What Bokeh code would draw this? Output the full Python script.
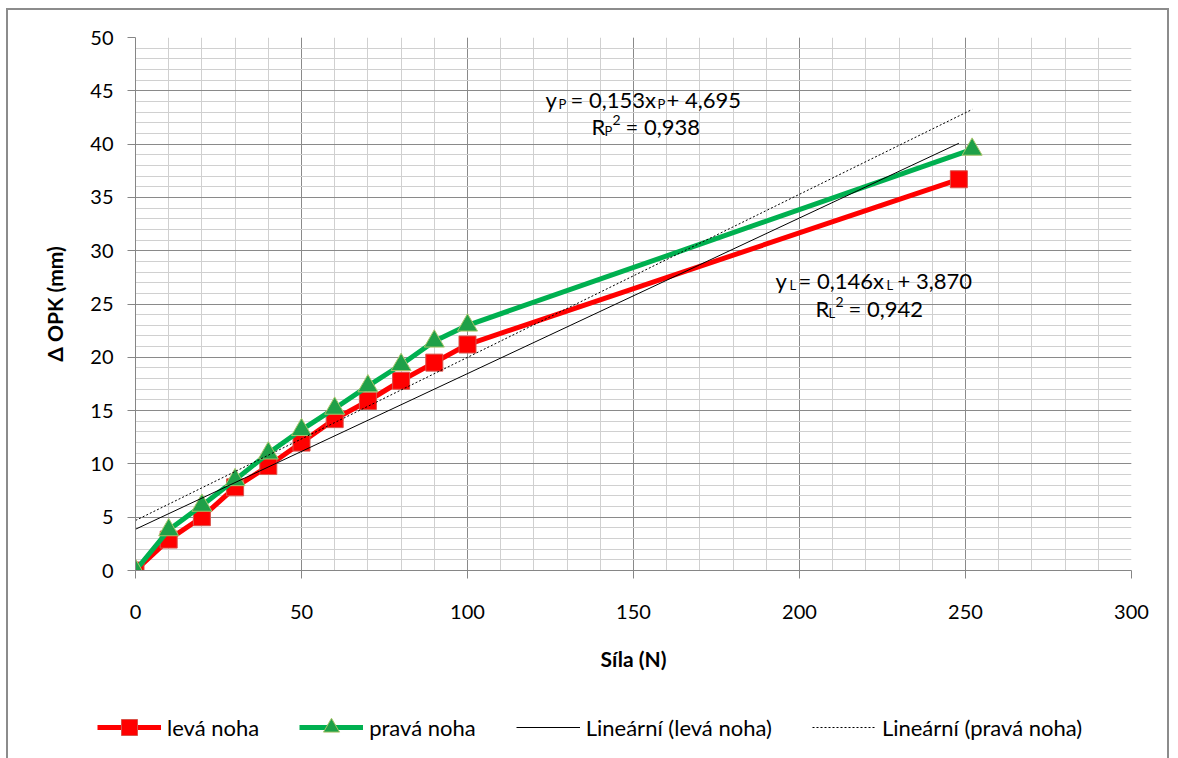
from bokeh.plotting import figure
from bokeh.layouts import column
from bokeh.models import Range1d, SingleIntervalTicker, Legend, LegendItem, Label
from bokeh.embed import file_html
from bokeh.resources import INLINE

# ---------------- data ----------------
sila_leva = [0, 10, 20, 30, 40, 50, 60, 70, 80, 90, 100, 248]
opk_leva = [0, 2.9, 5.0, 7.8, 9.8, 12.0, 14.2, 15.9, 17.8, 19.5, 21.2, 36.7]
sila_prava = [0, 10, 20, 30, 40, 50, 60, 70, 80, 90, 100, 252]
opk_prava = [0, 3.8, 6.1, 8.5, 11.0, 13.2, 15.2, 17.3, 19.3, 21.5, 23.0, 39.5]
trend_leva = (0.146, 3.870)   # slope, intercept
trend_prava = (0.153, 4.695)
series_names = ["levá noha", "pravá noha", "Lineární (levá noha)", "Lineární (pravá noha)"]

FONT = "Lato"
OX, OY = 8, 10                        # canvas offset inside the page (room for border)
FL, FR, FT, FB = 135, 1131, 37, 570   # frame edges in page px
CW = 1167 - OX
MAIN_BOTTOM = 690                     # page y where the main figure ends
MH = MAIN_BOTTOM - OY
LH = 758 - MAIN_BOTTOM
LEG_LEFT = 96                         # page x where the legend starts
SHIFT = FL - LEG_LEFT                 # legend strip is shifted left by this much

RED, GREEN = "#ff0000", "#00b050"

p = figure(width=CW, height=MH, output_backend="svg", toolbar_location=None,
           x_range=Range1d(0, 300), y_range=Range1d(0, 50),
           min_border_left=FL - OX, min_border_right=CW - (FR - OX),
           min_border_top=FT - OY, min_border_bottom=MAIN_BOTTOM - FB)
p.outline_line_color = None
p.background_fill_color = "white"
p.border_fill_color = "white"

p.xaxis.ticker = SingleIntervalTicker(interval=50, num_minor_ticks=5)
p.yaxis.ticker = SingleIntervalTicker(interval=5, num_minor_ticks=5)
for ax in (p.xaxis[0], p.yaxis[0]):
    ax.axis_line_color = "#868686"
    ax.major_tick_line_color = "#868686"
    ax.major_tick_in = 0
    ax.major_tick_out = 8
    ax.minor_tick_line_color = None
    ax.major_label_text_font = FONT
    ax.major_label_text_font_size = "20px"
    ax.major_label_text_color = "#000000"
    ax.axis_label_text_font = FONT
    ax.axis_label_text_font_size = "21px"
    ax.axis_label_text_font_style = "bold"
    ax.axis_label_text_color = "#000000"
p.xaxis.axis_label = "Síla (N)"
p.yaxis.axis_label = "Δ OPK (mm)"
p.xaxis.major_label_standoff = 26
p.xaxis.axis_label_standoff = 24
p.yaxis.major_label_standoff = 14
p.yaxis.axis_label_standoff = 20

for g in (p.xgrid[0], p.ygrid[0]):
    g.grid_line_color = "#8a8a8a"
    g.grid_line_width = 1
    g.minor_grid_line_color = "#d0d0d0"
    g.minor_grid_line_width = 1

# series styles
line_l = dict(line_color=RED, line_width=5)
mark_l = dict(marker="square", size=17, fill_color=RED, line_color="#d9534a", line_width=1)
line_p = dict(line_color=GREEN, line_width=5)
mark_p = dict(marker="triangle", size=20, fill_color="#1fa048", line_color="#a8c46a", line_width=1)
trend_l_style = dict(line_color="#000000", line_width=1)
trend_p_style = dict(line_color="#000000", line_width=1, line_dash="2 2")

xl = [0, max(sila_leva)]
yl = [trend_leva[0] * x + trend_leva[1] for x in xl]
xp = [0, max(sila_prava)]
yp = [trend_prava[0] * x + trend_prava[1] for x in xp]


def draw_series(fig):
    a = [fig.line(sila_leva, opk_leva, **line_l), fig.scatter(sila_leva, opk_leva, **mark_l)]
    b = [fig.line(sila_prava, opk_prava, **line_p), fig.scatter(sila_prava, opk_prava, **mark_p)]
    c = [fig.line(xl, yl, **trend_l_style)]
    d = [fig.line(xp, yp, **trend_p_style)]
    return a, b, c, d


draw_series(p)

# trendline equations (with sub/superscripts as separate text pieces)
def px_x(px):
    return (px - FL) / (FR - FL) * 300

def px_y(py):
    return (FB - py) / (FB - FT) * 50

eq_parts = [
    # text, left px, baseline px, size
    ("y", 545, 99, 22), ("P", 558, 103, 13), ("= 0,153x", 570, 99, 22),
    ("P", 657, 103, 13), ("+ 4,695", 666, 99, 22),
    ("R", 591, 126, 22), ("P", 604, 130, 13), ("2", 612, 119, 14), ("= 0,938", 625, 126, 22),
    ("y", 775, 280, 22), ("L", 789, 284, 13), ("= 0,146x", 798, 280, 22),
    ("L", 886, 284, 13), ("+ 3,870", 897, 280, 22),
    ("R", 815, 308, 22), ("L", 828, 312, 13), ("2", 835, 301, 14), ("= 0,942", 848, 308, 22),
]
for txt, lx, by, sz in eq_parts:
    p.add_layout(Label(x=px_x(lx), y=px_y(by), text=txt, text_font=FONT,
                       text_font_size=f"{sz}px", text_color="#000000",
                       text_align="left", text_baseline="alphabetic"))

# ---------------- legend strip (series drawn off-range, only legend visible) ----------------
q = figure(width=CW + SHIFT, height=LH, output_backend="svg", toolbar_location=None,
           x_range=Range1d(-3000, -2000), y_range=Range1d(-3000, -2000),
           x_axis_type=None, y_axis_type=None,
           min_border_left=0, min_border_right=0, min_border_top=0, min_border_bottom=0)
q.margin = (0, 0, 0, -SHIFT)
q.outline_line_color = None
q.grid.visible = False
q.background_fill_alpha = 0
q.border_fill_alpha = 0

g1, g2, g3, g4 = draw_series(q)

GLYPH_H = 40
legend = Legend(items=[
    LegendItem(label=series_names[0], renderers=g1),
    LegendItem(label=series_names[1], renderers=g2),
    LegendItem(label=series_names[2], renderers=g3),
    LegendItem(label=series_names[3], renderers=g4),
], orientation="horizontal",
    location=(1, LH - (727 - MAIN_BOTTOM) - GLYPH_H // 2),
    glyph_width=64, glyph_height=GLYPH_H, label_standoff=6, spacing=40,
    padding=0, margin=0, border_line_color=None, background_fill_alpha=0,
    label_text_font=FONT, label_text_font_size="22px", label_text_color="#000000")
q.add_layout(legend, "center")

layout = column(p, q, spacing=0, margin=(OY - 2, 0, 0, OX - 2),
                styles={"border": "2px solid #8c8c8c", "border-bottom": "none",
                        "background-color": "white"})

open("out.html", "w").write(file_html(layout, INLINE))
